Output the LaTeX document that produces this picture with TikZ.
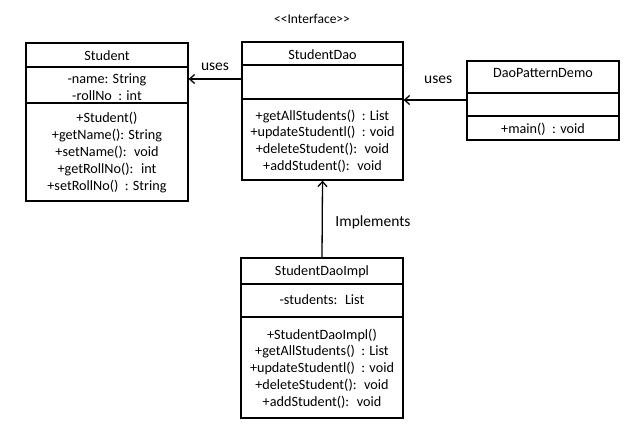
\documentclass[tikz,border=0pt]{standalone}
\usepackage{fontspec}
\setmainfont{Carlito}
\usetikzlibrary{arrows.meta}

\tikzset{
  umlbox/.style={draw, line width=1.3pt, fill=white, inner sep=0pt},
  umltext/.style={align=center, inner sep=0pt, font=\fontsize{14.2}{16.8}\selectfont},
  uses/.style={line width=1.3pt, -{Straight Barb[length=5pt,width=9pt,line width=1.3pt]}},
  lbl/.style={inner sep=0pt, font=\fontsize{15.5}{17}\selectfont}
}

\begin{document}
\begin{tikzpicture}[x=1pt,y=-1pt]
  \useasboundingbox (0,0) rectangle (644,434);

  %% Student
  \node[umlbox, minimum width=162pt, minimum height=158pt] (student) at (107,122) {};
  \draw[line width=1.3pt] (student.west |- 0,67) -- (student.east |- 0,67);
  \draw[line width=1.3pt] (student.west |- 0,103) -- (student.east |- 0,103);
  \node[umltext] (student-name) at (107,56) {Student};
  \node[umltext] (student-attr) at (107,87) {-name: String\\-rollNo \ : int};
  \node[umltext] (student-ops) at (107,152.5)
    {+Student()\\+getName(): String\\+setName(): \ void\\+getRollNo(): \ int\\+setRollNo() \ : String};

  %% StudentDao
  \node[lbl] (dao-stereo) at (312,19) {\fontsize{13.5}{15}\selectfont <\kern0pt<Interface>\kern0pt>};
  \node[umlbox, minimum width=161pt, minimum height=138pt] (dao) at (322.5,111) {};
  \draw[line width=1.3pt] (dao.west |- 0,65) -- (dao.east |- 0,65);
  \draw[line width=1.3pt] (dao.west |- 0,99) -- (dao.east |- 0,99);
  \node[umltext] (dao-name) at (322.5,55) {StudentDao};
  \node[umltext] (dao-ops) at (322.5,141)
    {+getAllStudents() \ : List\\+updateStudentl() \ : void\\+deleteStudent(): \ void\\+addStudent(): \ void};

  %% DaoPatternDemo
  \node[umlbox, minimum width=152pt, minimum height=79pt] (demo) at (543,100.5) {};
  \draw[line width=1.3pt] (demo.west |- 0,93) -- (demo.east |- 0,93);
  \draw[line width=1.3pt] (demo.west |- 0,116) -- (demo.east |- 0,116);
  \node[umltext] (demo-name) at (543,73) {DaoPatternDemo};
  \node[umltext] (demo-ops) at (543,129) {+main() \ : void};

  %% StudentDaoImpl
  \node[umlbox, minimum width=162pt, minimum height=160pt] (impl) at (322,338) {};
  \draw[line width=1.3pt] (impl.west |- 0,284) -- (impl.east |- 0,284);
  \draw[line width=1.3pt] (impl.west |- 0,317) -- (impl.east |- 0,317);
  \node[umltext] (impl-name) at (322,272) {StudentDaoImpl};
  \node[umltext] (impl-attr) at (322,300) {-students: \ List};
  \node[umltext] (impl-ops) at (322,368.5)
    {+StudentDaoImpl()\\+getAllStudents() \ : List\\+updateStudentl() \ : void\\+deleteStudent(): \ void\\+addStudent(): \ void};

  %% relations
  \draw[uses] (dao.west |- 0,79) -- node[lbl, above=8pt] (uses-a) {uses} (student.east |- 0,79);
  \draw[uses] (demo.west |- 0,100) -- node[lbl, above=16pt, pos=0.45] (uses-b) {uses} (dao.east |- 0,100);
  \draw[uses] (impl.north) -- (dao.south);
  \node[lbl] (impl-lbl) at (373,222) {Implements};

\end{tikzpicture}
\end{document}
